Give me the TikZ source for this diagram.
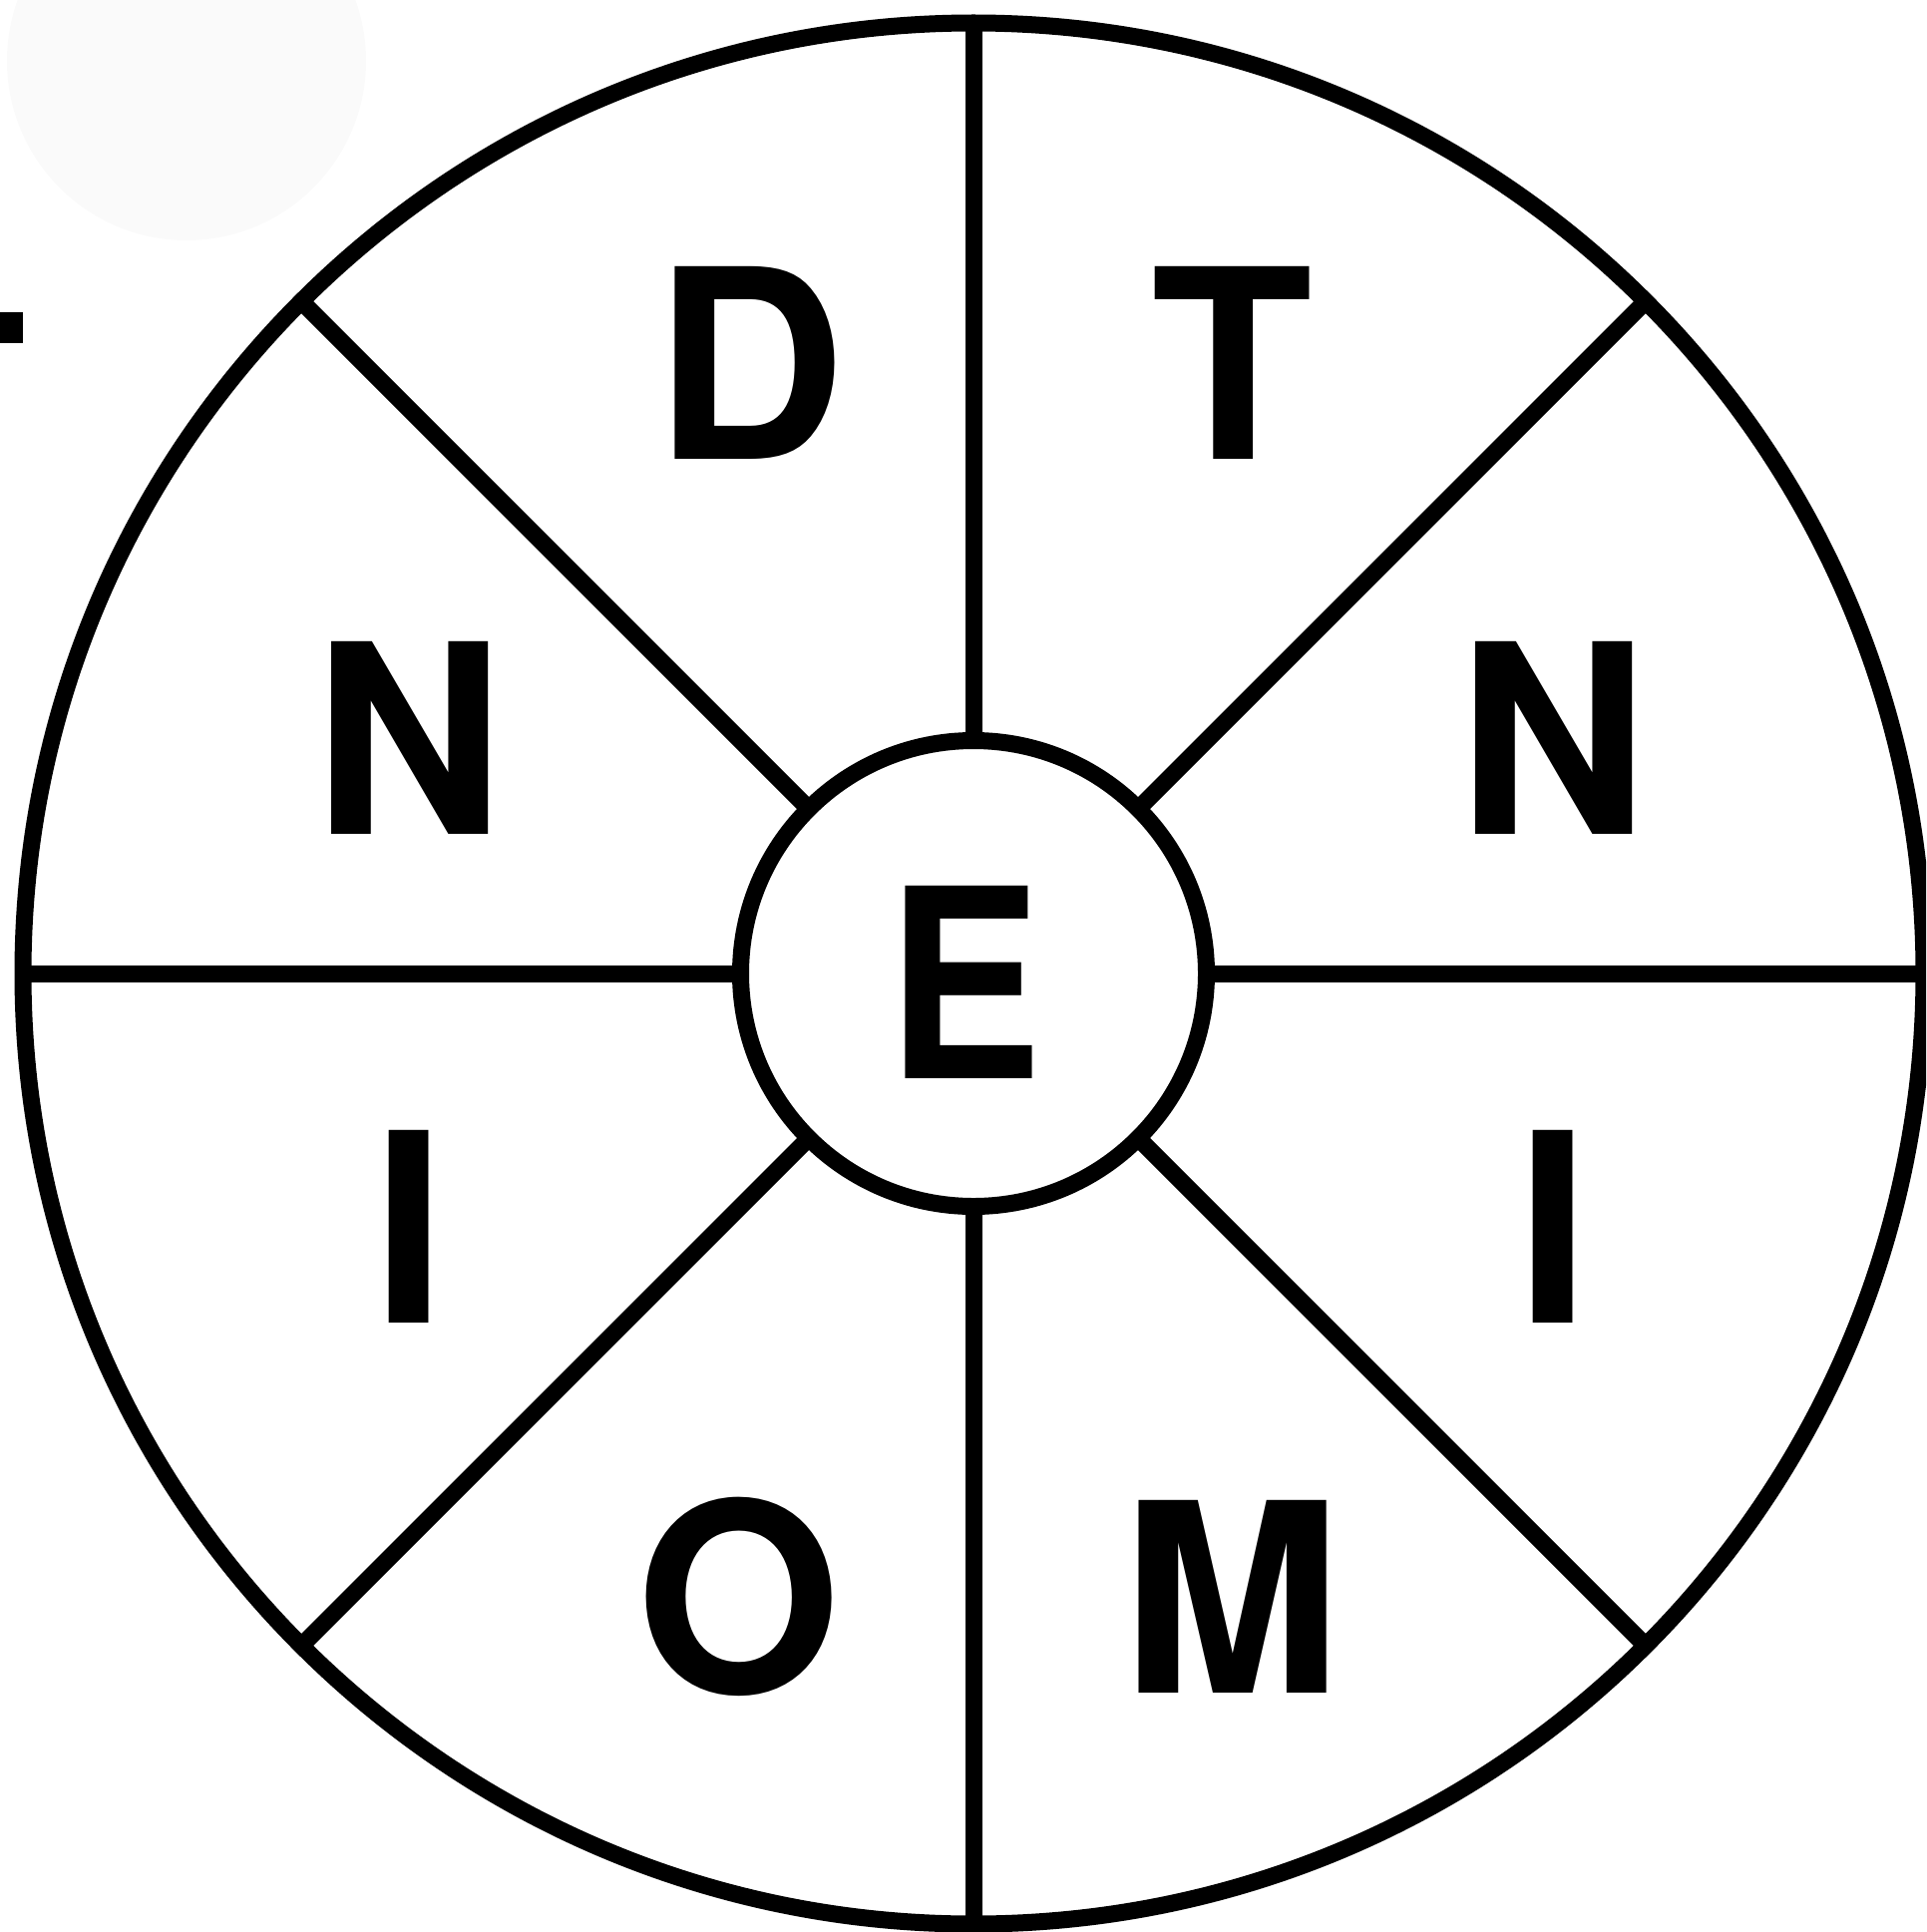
\documentclass[tikz,border=0pt]{standalone}
\usepackage{fontspec}
\setmainfont{TeX Gyre Heros}
\begin{document}
\begin{tikzpicture}[x=1pt,y=-1pt,
  ring/.style={circle,draw=black,line width=17pt,inner sep=0pt,fill=none},
  spoke/.style={line width=17pt,draw=black,shorten <=-6pt,shorten >=8.5pt},
  letter/.style={anchor=base,inner sep=0pt,font=\fontsize{265}{265}\selectfont\bfseries}]
\useasboundingbox (0,0) rectangle (1931,1937);
\clip (0,0) rectangle (1931,1937);
\fill[fill={rgb,255:red,250;green,250;blue,250}] (187,61) circle[radius=180];
\fill[black] (0,313) rectangle (23,344);
\node[ring,minimum size=1906pt] (outer) at (976,976) {};
\node[ring,minimum size=467pt] (inner) at (976,976) {};
\foreach \a in {0,45,...,315}{
  \draw[spoke] (inner.\a) -- (outer.\a);
}
\node[letter] (lD) at (752,460) {D};
\node[letter] (lT) at (1235,460) {T};
\node[letter] (lNl) at (410,836) {N};
\node[letter] (lNr) at (1557,836) {N};
\node[letter] (lE) at (967,1081) {\scalebox{0.88}[1]{E}};
\node[letter] (lIl) at (410,1326) {I};
\node[letter] (lIr) at (1557,1326) {I};
\node[letter] (lO) at (741,1697) {O};
\node[letter] (lM) at (1235,1697) {M};
\end{tikzpicture}
\end{document}
